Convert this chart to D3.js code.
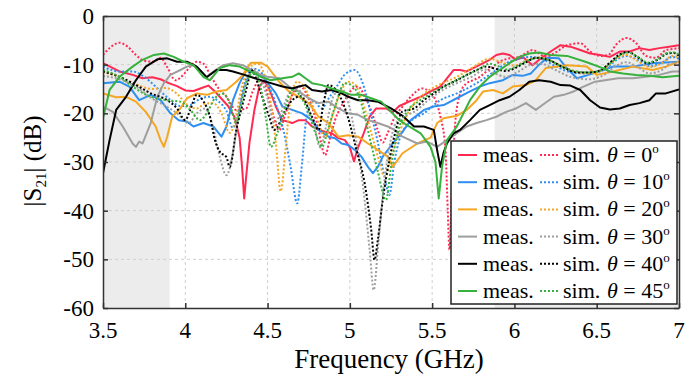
<!DOCTYPE html>
<html>
<head>
<meta charset="utf-8">
<script src="https://cdn.jsdelivr.net/npm/d3@7"></script>
</head>
<body style="margin:0">
<div id="chart"></div>
<script>
// Data: [frequency GHz, |S21| dB]
const xTicks = [3.5, 4, 4.5, 5, 5.5, 6, 6.5, 7];
const yTicks = [-60, -50, -40, -30, -20, -10, 0];
const shadedBands = [[3.5, 3.905], [5.88, 7]];
const angles = ["0", "10", "20", "30", "40", "45"];
const colors = ["#ff2a52", "#2e8ff0", "#f5a623", "#9e9e9e", "#000000", "#36b13c"];

const meas0 = [[3.5,-9.7],[3.6,-11.4],[3.68,-12.1],[3.74,-12.8],[3.8,-12.6],[3.85,-13.0],[3.9,-13.8],[3.95,-14.4],[4.0,-15.3],[4.05,-15.4],[4.1,-14.8],[4.14,-14.3],[4.18,-15.5],[4.22,-17],[4.26,-18.5],[4.3,-20.8],[4.33,-25],[4.345,-31],[4.358,-37.5],[4.37,-33],[4.39,-26],[4.42,-19.3],[4.45,-14.5],[4.48,-13.2],[4.51,-15],[4.55,-18.6],[4.59,-21.4],[4.65,-22],[4.69,-21.4],[4.73,-21.4],[4.77,-22.7],[4.81,-23.4],[4.85,-23.8],[4.89,-24.1],[4.93,-25.1],[4.97,-25.5],[5.0,-27],[5.025,-29.9],[5.05,-27],[5.08,-24.5],[5.12,-20.7],[5.16,-19],[5.22,-19],[5.26,-19.8],[5.3,-18.5],[5.36,-17.6],[5.43,-16.6],[5.49,-15.5],[5.55,-14.5],[5.59,-12.8],[5.63,-11.1],[5.67,-11.1],[5.71,-11.4],[5.75,-10.7],[5.81,-9.7],[5.85,-9.0],[5.89,-8.0],[5.93,-7.7],[5.97,-8.0],[6.01,-9.0],[6.05,-8.4],[6.11,-10.1],[6.15,-9.0],[6.22,-7.3],[6.28,-6.0],[6.34,-6.3],[6.4,-7.0],[6.46,-7.7],[6.52,-8.0],[6.58,-8.4],[6.64,-7.3],[6.7,-7.3],[6.76,-6.6],[6.82,-7.0],[6.88,-6.6],[6.94,-6.3],[7.0,-6.0]];
const sim0 = [[3.5,-8.0],[3.55,-6.3],[3.6,-5.5],[3.65,-6.3],[3.7,-8.0],[3.75,-9.2],[3.81,-9.4],[3.85,-8.6],[3.89,-10.5],[3.94,-13.2],[3.99,-12.0],[4.03,-10.4],[4.07,-9.4],[4.11,-9.8],[4.15,-12],[4.2,-14.8],[4.25,-16.6],[4.31,-19.3],[4.37,-19.0],[4.41,-15.5],[4.45,-13.2],[4.48,-13.8],[4.5,-16],[4.54,-21],[4.57,-23.5],[4.61,-20],[4.66,-15.5],[4.7,-14.5],[4.75,-17],[4.8,-22],[4.85,-28.6],[4.88,-25],[4.91,-21.4],[4.97,-17.3],[5.01,-15.2],[5.05,-14.5],[5.09,-16.5],[5.13,-19.5],[5.17,-23.5],[5.2,-26],[5.23,-24],[5.27,-21],[5.32,-18.6],[5.37,-16.6],[5.44,-14.9],[5.51,-16.6],[5.55,-20.7],[5.58,-27],[5.595,-40],[5.605,-48],[5.62,-36],[5.64,-22],[5.67,-16],[5.71,-13.8],[5.75,-13.2],[5.79,-12.5],[5.83,-11.4],[5.87,-10.4],[5.91,-9.4],[5.97,-8.7],[6.03,-8.4],[6.11,-7.0],[6.19,-8.4],[6.25,-7.5],[6.32,-6.0],[6.4,-5.6],[6.46,-7.3],[6.52,-8.2],[6.57,-8.0],[6.62,-5.8],[6.68,-4.5],[6.74,-5.6],[6.8,-8.2],[6.86,-8.6],[6.92,-7.0],[6.96,-6.8],[7.0,-6.6]];
const meas10 = [[3.5,-13.8],[3.6,-13.5],[3.66,-14.5],[3.72,-17.3],[3.79,-16.2],[3.85,-17.3],[3.91,-20],[3.96,-21.4],[4.01,-21.7],[4.05,-22.7],[4.11,-22],[4.17,-22.7],[4.22,-24.8],[4.25,-22.7],[4.29,-17.3],[4.33,-13.8],[4.37,-11.2],[4.42,-11.4],[4.48,-12.8],[4.55,-15.9],[4.59,-18.6],[4.65,-19.3],[4.71,-20],[4.77,-21.4],[4.81,-23.4],[4.87,-24.8],[4.91,-25.1],[4.95,-26.2],[4.99,-26.5],[5.03,-27.5],[5.07,-28.9],[5.11,-31],[5.14,-32.3],[5.17,-31],[5.2,-28.9],[5.26,-26.2],[5.32,-23.8],[5.37,-21.4],[5.45,-19.3],[5.51,-18.6],[5.57,-18.3],[5.65,-16.9],[5.73,-15.5],[5.79,-14.5],[5.85,-13.8],[5.93,-13.2],[5.99,-12.1],[6.05,-12.3],[6.1,-11.8],[6.15,-10],[6.2,-8.6],[6.27,-8.7],[6.32,-10.8],[6.38,-12.8],[6.44,-12.2],[6.5,-11.5],[6.6,-10.4],[6.72,-10.4],[6.84,-9.7],[7.0,-9.4]];
const sim10 = [[3.5,-10.4],[3.6,-11.4],[3.68,-11.4],[3.75,-12.5],[3.82,-14.5],[3.9,-17],[3.97,-18.5],[4.03,-18.3],[4.09,-17],[4.15,-16.6],[4.2,-17.5],[4.25,-19.5],[4.29,-23],[4.32,-20],[4.36,-14],[4.41,-10.8],[4.45,-11.2],[4.5,-14],[4.55,-18],[4.6,-24],[4.64,-31],[4.68,-38.5],[4.71,-30],[4.74,-20],[4.78,-17.5],[4.83,-19],[4.87,-17],[4.92,-14.5],[4.97,-12],[5.03,-11.1],[5.08,-14],[5.12,-19],[5.17,-26],[5.21,-33],[5.24,-36.8],[5.27,-30],[5.3,-25.5],[5.36,-22],[5.45,-20],[5.55,-17.3],[5.65,-15.9],[5.75,-14.2],[5.83,-12.5],[5.89,-11.1],[5.95,-9.7],[6.01,-9.0],[6.09,-8.4],[6.15,-8.6],[6.25,-10.3],[6.35,-11.6],[6.45,-11.8],[6.55,-11],[6.62,-9],[6.68,-8.2],[6.75,-9],[6.82,-10.3],[6.9,-9.5],[6.96,-8.4],[7.0,-8.8]];
const meas20 = [[3.5,-15.9],[3.58,-16.7],[3.64,-16.6],[3.7,-17.6],[3.76,-19.7],[3.82,-22.7],[3.85,-25.5],[3.87,-26.9],[3.89,-24.8],[3.92,-20.7],[3.97,-19],[4.01,-16.9],[4.07,-15.9],[4.13,-16.2],[4.19,-15.5],[4.25,-15.2],[4.31,-13.5],[4.35,-12.1],[4.38,-10.4],[4.4,-9.6],[4.46,-9.6],[4.5,-10.4],[4.57,-13.5],[4.63,-15.5],[4.69,-16.6],[4.75,-17.9],[4.81,-20.7],[4.87,-22],[4.93,-24.8],[4.99,-24.5],[5.05,-24.8],[5.11,-26.2],[5.17,-27.5],[5.23,-28.9],[5.26,-31],[5.32,-28.2],[5.41,-26.2],[5.49,-25],[5.53,-22],[5.57,-21],[5.65,-20.5],[5.71,-19.3],[5.77,-17.3],[5.81,-15.5],[5.87,-15.2],[5.93,-15.9],[5.99,-14.5],[6.07,-14.2],[6.13,-13.2],[6.19,-10.7],[6.32,-10.1],[6.44,-10.4],[6.5,-12.1],[6.6,-11.4],[6.72,-10.4],[6.84,-11.1],[6.92,-10.4],[7.0,-9.4]];
const sim20 = [[3.5,-11.5],[3.6,-12.5],[3.7,-14],[3.8,-15],[3.88,-14.8],[3.95,-16],[4.02,-18.5],[4.07,-19],[4.12,-18],[4.17,-17.9],[4.22,-20],[4.27,-24],[4.3,-22],[4.34,-15],[4.39,-10.5],[4.44,-9.8],[4.48,-12],[4.52,-18],[4.55,-26],[4.58,-36],[4.61,-27],[4.64,-17],[4.68,-13.5],[4.72,-14.5],[4.77,-18],[4.81,-22],[4.85,-25],[4.89,-21],[4.94,-16],[4.99,-13.5],[5.03,-14],[5.08,-18],[5.13,-24],[5.18,-30],[5.21,-33],[5.25,-29],[5.3,-24],[5.36,-19.5],[5.45,-16],[5.55,-14],[5.65,-12.5],[5.75,-10.5],[5.85,-8.8],[5.92,-9.5],[6.0,-10.2],[6.08,-9],[6.15,-8.5],[6.25,-9.7],[6.35,-11.2],[6.45,-11.8],[6.55,-10.8],[6.62,-8.7],[6.68,-8],[6.75,-9.3],[6.82,-10.5],[6.9,-9.6],[6.96,-8.2],[7.0,-8.6]];
const meas30 = [[3.5,-18.6],[3.56,-19.7],[3.62,-22.7],[3.68,-26.2],[3.7,-26.9],[3.72,-25.8],[3.74,-26.2],[3.79,-22],[3.83,-16.6],[3.87,-13.8],[3.91,-12.1],[3.97,-11.1],[4.01,-10.4],[4.05,-10.1],[4.09,-11.1],[4.13,-12.5],[4.17,-11.4],[4.23,-10.1],[4.29,-9.7],[4.35,-10.1],[4.4,-11],[4.44,-11.8],[4.5,-12.5],[4.57,-12.8],[4.63,-14.5],[4.69,-15.5],[4.75,-16.9],[4.81,-17.9],[4.87,-17.6],[4.93,-19],[4.99,-20],[5.05,-20.3],[5.11,-21.4],[5.17,-22],[5.23,-22.7],[5.27,-23.4],[5.32,-24.8],[5.41,-26.2],[5.47,-25.8],[5.53,-26.9],[5.59,-25.5],[5.65,-24.1],[5.71,-22.7],[5.77,-22],[5.83,-21.4],[5.89,-20.7],[5.95,-19.7],[6.01,-19],[6.07,-17.9],[6.13,-19.3],[6.17,-18.3],[6.24,-16.6],[6.3,-16.2],[6.36,-15.5],[6.42,-14.5],[6.49,-13.5],[6.55,-13.2],[6.63,-12.8],[6.72,-12.8],[6.8,-12.5],[6.88,-12.1],[6.96,-11.4],[7.0,-11.4]];
const sim30 = [[3.5,-12.3],[3.6,-13],[3.7,-14.5],[3.8,-17],[3.88,-18.5],[3.95,-20],[4.02,-22],[4.07,-20],[4.12,-19],[4.17,-23],[4.21,-29],[4.25,-32.7],[4.29,-28],[4.33,-19],[4.38,-12.5],[4.42,-11],[4.46,-13],[4.5,-17],[4.54,-22],[4.58,-20],[4.63,-16],[4.68,-15],[4.73,-17.5],[4.78,-22],[4.82,-27],[4.86,-22],[4.9,-16.5],[4.95,-15],[5.0,-19],[5.04,-26],[5.08,-35],[5.12,-48],[5.145,-56.3],[5.17,-48],[5.2,-37],[5.24,-27],[5.28,-22],[5.34,-20.5],[5.4,-19.5],[5.47,-17.5],[5.55,-15.5],[5.65,-13.8],[5.75,-12.3],[5.82,-11],[5.88,-11.8],[5.95,-12.5],[6.02,-11.5],[6.1,-10],[6.16,-9.8],[6.25,-11.1],[6.35,-12.6],[6.45,-13],[6.55,-12],[6.62,-10.2],[6.68,-9.5],[6.75,-10.5],[6.82,-11.8],[6.9,-11],[6.96,-9.5],[7.0,-10]];
const meas40 = [[3.5,-32.3],[3.54,-25.5],[3.58,-19.3],[3.64,-16.6],[3.7,-13.2],[3.76,-10.4],[3.83,-8.9],[3.89,-8.7],[3.95,-9.4],[4.01,-9.4],[4.07,-10.4],[4.13,-12.6],[4.19,-11.1],[4.25,-11.1],[4.29,-11.4],[4.36,-12.1],[4.46,-13.2],[4.52,-13.8],[4.59,-14.5],[4.65,-14.9],[4.69,-14.5],[4.73,-14.2],[4.77,-15.2],[4.83,-15.5],[4.89,-15.2],[4.95,-15.9],[4.99,-16.6],[5.05,-17.3],[5.11,-17.3],[5.17,-17.6],[5.25,-19],[5.32,-20.5],[5.39,-22.7],[5.45,-22.7],[5.51,-23.4],[5.53,-27.5],[5.55,-31],[5.57,-28],[5.59,-26.2],[5.63,-24.1],[5.67,-23.4],[5.73,-21.4],[5.79,-19.3],[5.85,-18.3],[5.91,-17.3],[5.97,-16.6],[6.03,-15.2],[6.09,-13.5],[6.15,-13.2],[6.22,-13.5],[6.28,-14.2],[6.34,-14.3],[6.4,-15.2],[6.46,-17.3],[6.52,-18.8],[6.58,-19.2],[6.64,-19],[6.7,-18.3],[6.76,-17.9],[6.82,-17.3],[6.86,-15.9],[6.92,-15.9],[7.0,-15.1]];
const sim40 = [[3.5,-11.4],[3.6,-12.5],[3.68,-13.8],[3.79,-15.9],[3.89,-17.3],[3.95,-19],[4.0,-21.4],[4.03,-19.3],[4.07,-16.2],[4.11,-17.5],[4.15,-20.7],[4.18,-25.5],[4.21,-27.9],[4.25,-29],[4.27,-31],[4.31,-23.4],[4.35,-17.9],[4.38,-13.8],[4.4,-11.1],[4.46,-15.9],[4.51,-20.7],[4.54,-23.4],[4.61,-19.3],[4.65,-17.3],[4.7,-16.5],[4.77,-20.7],[4.81,-23.4],[4.84,-18],[4.87,-14.2],[4.93,-15.9],[4.99,-21],[5.04,-27.5],[5.09,-34.4],[5.13,-44],[5.15,-50.1],[5.17,-46],[5.2,-37.8],[5.24,-29.6],[5.28,-23.4],[5.32,-19.6],[5.39,-19],[5.45,-17.3],[5.51,-15.9],[5.57,-14.5],[5.65,-13.2],[5.71,-12.1],[5.77,-11.1],[5.83,-10.4],[5.89,-10.9],[5.95,-11.3],[6.01,-10.6],[6.07,-9.5],[6.13,-8.6],[6.22,-9.2],[6.3,-10.6],[6.38,-11.6],[6.45,-11.6],[6.52,-11.2],[6.58,-9.6],[6.64,-7.9],[6.69,-7.4],[6.75,-8.5],[6.81,-9.7],[6.87,-9.0],[6.93,-7.7],[6.97,-7.6],[7.0,-8.2]];
const meas45 = [[3.5,-21],[3.54,-15.2],[3.6,-12.5],[3.68,-10.4],[3.74,-9.0],[3.81,-8.0],[3.87,-7.7],[3.93,-8.4],[3.99,-9.4],[4.05,-10.1],[4.11,-12.5],[4.15,-13.2],[4.21,-10.7],[4.27,-10.1],[4.33,-10.4],[4.4,-11.5],[4.46,-12.5],[4.52,-13.2],[4.59,-12.8],[4.65,-12.5],[4.69,-11.8],[4.73,-12.8],[4.77,-13.8],[4.83,-14.2],[4.89,-14.9],[4.95,-15.5],[5.01,-16.2],[5.07,-16.2],[5.13,-16.9],[5.19,-17.6],[5.24,-19.3],[5.3,-21.4],[5.36,-22.7],[5.43,-24.1],[5.49,-26.9],[5.52,-30],[5.54,-37.5],[5.56,-31],[5.59,-25.5],[5.65,-22.7],[5.69,-20],[5.73,-17.3],[5.79,-14.5],[5.85,-12.5],[5.91,-11.1],[5.97,-9.7],[6.03,-8.4],[6.09,-7.7],[6.15,-7.5],[6.22,-8.0],[6.32,-8.2],[6.44,-9.5],[6.52,-10.5],[6.58,-11.4],[6.66,-11.8],[6.74,-12.1],[6.82,-12.3],[6.9,-12.6],[7.0,-12.3]];
const sim45 = [[3.5,-11.1],[3.6,-12.5],[3.68,-14.5],[3.79,-16.6],[3.89,-17.3],[3.97,-17.6],[4.03,-19.3],[4.09,-21.4],[4.13,-20],[4.18,-16.9],[4.23,-15.9],[4.27,-18],[4.31,-22],[4.34,-18],[4.38,-13],[4.42,-11.5],[4.46,-15],[4.49,-21],[4.52,-26.9],[4.56,-24],[4.61,-18.6],[4.65,-15.2],[4.7,-16.5],[4.75,-20],[4.79,-24],[4.83,-26.9],[4.87,-23],[4.91,-18.6],[4.97,-13.8],[5.02,-14.5],[5.07,-18],[5.12,-25],[5.17,-32],[5.22,-37.8],[5.25,-31],[5.29,-24],[5.35,-19.5],[5.42,-17.5],[5.5,-15.8],[5.6,-14],[5.7,-12.3],[5.78,-11],[5.85,-9.8],[5.9,-10.3],[5.96,-11],[6.02,-10.2],[6.08,-9.2],[6.14,-8.6],[6.22,-9.2],[6.3,-10.6],[6.38,-11.4],[6.45,-11.6],[6.52,-11.2],[6.58,-9.8],[6.64,-8.1],[6.69,-7.5],[6.75,-8.4],[6.81,-9.6],[6.87,-8.9],[6.93,-7.6],[6.97,-7.5],[7.0,-8.0]];

const measSeries = [meas0, meas10, meas20, meas30, meas40, meas45];
const simSeries = [sim0, sim10, sim20, sim30, sim40, sim45];

const SERIF = "Liberation Serif";
const W = 699, H = 379;
const margin = { top: 16, right: 20, bottom: 71, left: 103 };
const width = W - margin.left - margin.right;
const height = H - margin.top - margin.bottom;

const svg = d3.select("#chart").append("svg").attr("width", W).attr("height", H);
const g = svg.append("g").attr("transform", `translate(${margin.left},${margin.top})`);

const x = d3.scaleLinear().domain([3.5, 7]).range([0, width]);
const y = d3.scaleLinear().domain([-60, 0]).range([height, 0]);

// helper: every text gets its own serif font
function label(parent, str, size) {
  return parent.append("text").attr("font-family", SERIF).attr("font-size", size).text(str);
}

// shaded bands
g.selectAll(".band").data(shadedBands).enter().append("rect")
  .attr("x", d => x(d[0])).attr("width", d => x(d[1]) - x(d[0]))
  .attr("y", 0).attr("height", height).attr("fill", "#ececec");

// grid
g.append("g").selectAll("line").data(xTicks.slice(1, -1)).enter().append("line")
  .attr("x1", d => x(d)).attr("x2", d => x(d)).attr("y1", 0).attr("y2", height)
  .attr("stroke", "#cfcfcf").attr("stroke-dasharray", "3,3");
g.append("g").selectAll("line").data(yTicks.slice(1, -1)).enter().append("line")
  .attr("y1", d => y(d)).attr("y2", d => y(d)).attr("x1", 0).attr("x2", width)
  .attr("stroke", "#cfcfcf").attr("stroke-dasharray", "3,3");

// curves
g.append("clipPath").attr("id", "clip").append("rect")
  .attr("width", width).attr("height", height);
const plot = g.append("g").attr("clip-path", "url(#clip)");
const lineMeas = d3.line().x(d => x(d[0])).y(d => y(d[1]));
const lineSim = d3.line().x(d => x(d[0])).y(d => y(d[1])).curve(d3.curveMonotoneX);

angles.forEach((a, i) => {
  plot.append("path").datum(measSeries[i])
    .attr("fill", "none").attr("stroke", colors[i]).attr("stroke-width", 2)
    .attr("stroke-linejoin", "round").attr("d", lineMeas);
  plot.append("path").datum(simSeries[i])
    .attr("fill", "none").attr("stroke", colors[i]).attr("stroke-width", 2)
    .attr("stroke-dasharray", "2,2").attr("d", lineSim);
});

// axes: tick marks only (inward), labels drawn separately
const axB = g.append("g").attr("transform", `translate(0,${height})`)
  .call(d3.axisBottom(x).tickValues(xTicks).tickFormat("").tickSize(-5).tickSizeOuter(0));
const axL = g.append("g")
  .call(d3.axisLeft(y).tickValues(yTicks).tickFormat("").tickSize(-5).tickSizeOuter(0));
const axT = g.append("g")
  .call(d3.axisTop(x).tickValues(xTicks).tickFormat("").tickSize(-5).tickSizeOuter(0));
const axR = g.append("g").attr("transform", `translate(${width},0)`)
  .call(d3.axisRight(y).tickValues(yTicks).tickFormat("").tickSize(-5).tickSizeOuter(0));
[axB, axL, axT, axR].forEach(ax => {
  ax.attr("font-family", null).attr("font-size", null);
  ax.selectAll("text").remove();
  ax.select(".domain").attr("stroke", "#333").attr("stroke-width", 1.5);
  ax.selectAll(".tick line").attr("stroke", "#333").attr("stroke-width", 1.5);
});

// tick labels
xTicks.forEach(v => {
  label(g, String(v), 23).attr("x", x(v)).attr("y", height + 30).attr("text-anchor", "middle");
});
yTicks.forEach(v => {
  label(g, String(v), 23).attr("x", -9).attr("y", y(v) + 8).attr("text-anchor", "end");
});

// axis titles
label(svg, "Frequency (GHz)", 27).attr("x", 389).attr("y", 368).attr("text-anchor", "middle");
const yl = svg.append("text").attr("transform", "translate(41,161) rotate(-90)")
  .attr("font-family", SERIF).attr("text-anchor", "middle").attr("font-size", 25);
yl.append("tspan").text("|S");
yl.append("tspan").attr("font-size", 15).attr("dy", 5).text("21");
yl.append("tspan").attr("dy", -5).text("| (dB)");

// legend
const lg = svg.append("g").attr("transform", "translate(451,141)");
lg.append("rect").attr("width", 226).attr("height", 163)
  .attr("fill", "#fff").attr("stroke", "#222").attr("stroke-width", 1.5);
angles.forEach((a, i) => {
  const cy = 14 + i * 27.2;
  const row = lg.append("g").attr("transform", `translate(0,${cy})`);
  row.append("line").attr("x1", 7).attr("x2", 26).attr("stroke", colors[i]).attr("stroke-width", 2);
  row.append("line").attr("x1", 89).attr("x2", 107).attr("stroke", colors[i])
    .attr("stroke-width", 2).attr("stroke-dasharray", "2,2");
  label(row, "meas.", 22).attr("x", 32).attr("y", 7);
  label(row, "sim.", 22).attr("x", 112).attr("y", 7);
  const t = row.append("text").attr("x", 156).attr("y", 7)
    .attr("font-family", SERIF).attr("font-size", 22);
  t.append("tspan").attr("font-style", "italic").text("θ");
  t.append("tspan").text(" = " + a);
  t.append("tspan").attr("font-size", 13).attr("dy", -9).text("o");
});
</script>
</body>
</html>
